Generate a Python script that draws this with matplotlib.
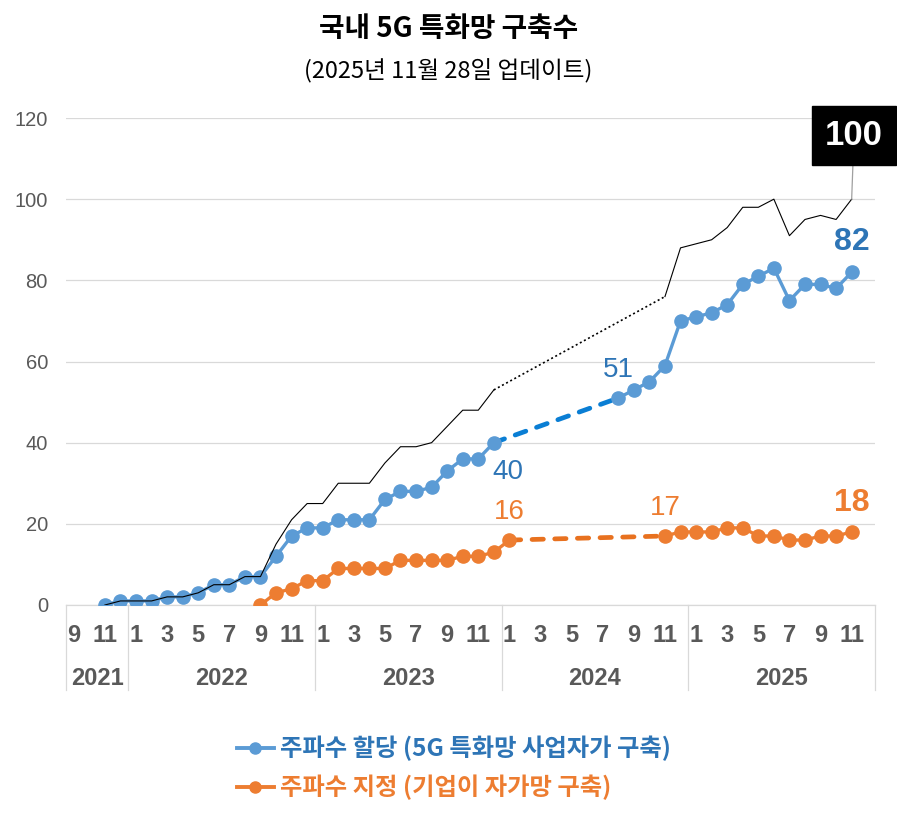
import numpy as np
import matplotlib
matplotlib.use("Agg")
import matplotlib.pyplot as plt
from matplotlib.lines import Line2D
import matplotlib.transforms as mtransforms

plt.rcParams['font.family'] = ['Noto Sans CJK KR', 'DejaVu Sans']

NA = np.nan

# categories: 2021-09 .. 2025-12
years = [2021, 2022, 2023, 2024, 2025]
months = [(2021, m) for m in range(9, 13)] + [(y, m) for y in years[1:] for m in range(1, 13)]

# 주파수 할당 (5G 특화망 사업자가 구축)
assigned = [NA, NA, 0, 1,
            1, 1, 2, 2, 3, 5, 5, 7, 7, 12, 17, 19,
            19, 21, 21, 21, 26, 28, 28, 29, 33, 36, 36, 40,
            NA, NA, NA, NA, NA, NA, NA, 51, 53, 55, 59, 70,
            71, 72, 74, 79, 81, 83, 75, 79, 79, 78, 82, NA]

# 주파수 지정 (기업이 자가망 구축)
designated = [NA, NA, NA, NA,
              NA, NA, NA, NA, NA, NA, NA, NA, 0, 3, 4, 6,
              6, 9, 9, 9, 9, 11, 11, 11, 11, 12, 12, 13,
              16, NA, NA, NA, NA, NA, NA, NA, NA, NA, 17, 18,
              18, 18, 19, 19, 17, 17, 16, 16, 17, 17, 18, NA]

# total
total = [NA, NA, 0, 1,
         1, 1, 2, 2, 3, 5, 5, 7, 7, 15, 21, 25,
         25, 30, 30, 30, 35, 39, 39, 40, 44, 48, 48, 53,
         NA, NA, NA, NA, NA, NA, NA, NA, NA, NA, 76, 88,
         89, 90, 93, 98, 98, 100, 91, 95, 96, 95, 100, NA]

BLUE = "#5B9BD5"
BLUE_DASH = "#0A7ED4"
BLUE_TXT = "#2E75B6"
ORANGE = "#ED7D31"
ORANGE_DASH = "#E8711F"
GRAY = "#595959"

x = np.arange(len(months))
assigned = np.array(assigned, dtype=float)
designated = np.array(designated, dtype=float)
total = np.array(total, dtype=float)


def gap_bridge(vals):
    # last point before the gap and first point after it
    ok = np.where(~np.isnan(vals))[0]
    jumps = np.where(np.diff(ok) > 1)[0]
    j = jumps[-1]
    a, b = ok[j], ok[j + 1]
    return [a, b], [vals[a], vals[b]]


fig = plt.figure(figsize=(8.97, 8.15), dpi=100)
ax = fig.add_axes([66 / 897, 1 - 605 / 815, (875 - 66) / 897, (605 - 118) / 815])

# dashed bridges over the missing months
bx, by = gap_bridge(assigned)
ax.plot(bx, by, color=BLUE_DASH, lw=3.4, ls=(0, (2.4, 2.4)), dash_capstyle="round", zorder=2)
ox, oy = gap_bridge(designated)
ax.plot(ox, oy, color=ORANGE_DASH, lw=3.4, ls=(0, (2.4, 2.4)), dash_capstyle="round", zorder=2)
tx, ty = gap_bridge(total)
ax.plot(tx, ty, color="black", lw=1.2, ls=(0, (1.2, 1.6)), zorder=4)

ax.plot(x, assigned, color=BLUE, lw=2.4, marker="o", ms=9.5, zorder=3)
ax.plot(x, designated, color=ORANGE, lw=2.4, marker="o", ms=9.5, zorder=3)
ax.plot(x, total, color="black", lw=0.8, zorder=4)

ax.set_xlim(-0.5, len(months) - 0.5)
ax.set_ylim(0, 120)
ax.set_yticks(range(0, 121, 20))
ax.grid(True, axis="y", color="#D9D9D9", lw=0.9)
ax.set_axisbelow(True)
for s in ["top", "right", "left"]:
    ax.spines[s].set_visible(False)
ax.spines["bottom"].set_color("#D9D9D9")
ax.spines["bottom"].set_linewidth(0.9)
ax.tick_params(axis="y", length=0, pad=13, labelsize=14.5, labelcolor=GRAY)
for lab in ax.get_yticklabels():
    lab.set_family(["Liberation Sans", "DejaVu Sans"])
ax.set_xticks([])

# two-level category axis
trans = mtransforms.blended_transform_factory(ax.transData, ax.transAxes)
num = ["Liberation Sans", "DejaVu Sans"]
for i, (y, m) in enumerate(months):
    if m % 2 == 1:
        ax.text(i, -0.062, str(m), transform=trans, ha="center", va="center",
                fontsize=17, fontweight="bold", color=GRAY, family=num)
bounds = [-0.5]
for yr in years:
    idx = [i for i, (y, m) in enumerate(months) if y == yr]
    bounds.append(idx[-1] + 0.5)
    ax.text((idx[0] + idx[-1]) / 2, -0.15, str(yr), transform=trans, ha="center",
            va="center", fontsize=17, fontweight="bold", color=GRAY, family=num)
for b in bounds:
    ax.plot([b, b], [0, -0.175], transform=trans, color="#D9D9D9", lw=0.9, clip_on=False)


# data labels
def label(i, vals, txt, color, dx, dy, bold=False, size=20):
    ax.annotate(txt, xy=(i, vals[i]), xytext=(dx, dy), textcoords="offset points",
                ha="center", va="center", fontsize=size, color=color,
                fontweight="bold" if bold else "normal", family=num, zorder=6)


label(27, assigned, "40", BLUE_TXT, 10, -21)
label(35, assigned, "51", BLUE_TXT, 0, 20)
label(50, assigned, "82", BLUE_TXT, 0, 22, bold=True, size=23)
label(28, designated, "16", ORANGE, 0, 20)
label(38, designated, "17", ORANGE, 0, 20)
label(50, designated, "18", ORANGE, 0, 21, bold=True, size=23)

ax.annotate("100", xy=(50, total[50]), xytext=(50.15, 115.7), textcoords="data",
            ha="center", va="center", fontsize=25, fontweight="bold", color="white",
            family=num, annotation_clip=False, zorder=6,
            bbox=dict(boxstyle="square,pad=0.38", fc="black", ec="black"),
            arrowprops=dict(arrowstyle="-", color="#A0A0A0", lw=0.9, shrinkA=0, shrinkB=0))

fig.text(0.5, 1 - 29 / 815, "국내 5G 특화망 구축수", ha="center", va="center",
         fontsize=20, fontweight="bold", color="black")
fig.text(0.5, 1 - 71 / 815, "(2025년 11월 28일 업데이트)", ha="center", va="center",
         fontsize=17, color="black")

handles = [Line2D([], [], color=BLUE, lw=2.8, marker="o", ms=8),
           Line2D([], [], color=ORANGE, lw=2.8, marker="o", ms=8)]
leg = fig.legend(handles, ["주파수 할당 (5G 특화망 사업자가 구축)", "주파수 지정 (기업이 자가망 구축)"],
                 loc="center left", bbox_to_anchor=(0.24, 1 - 768 / 815), frameon=False,
                 handlelength=1.5, handletextpad=0.25, labelspacing=0.55,
                 prop=dict(size=17.5, weight="bold"))
for t, c in zip(leg.get_texts(), [BLUE_TXT, ORANGE]):
    t.set_color(c)

fig.savefig("out.png", dpi=100)
